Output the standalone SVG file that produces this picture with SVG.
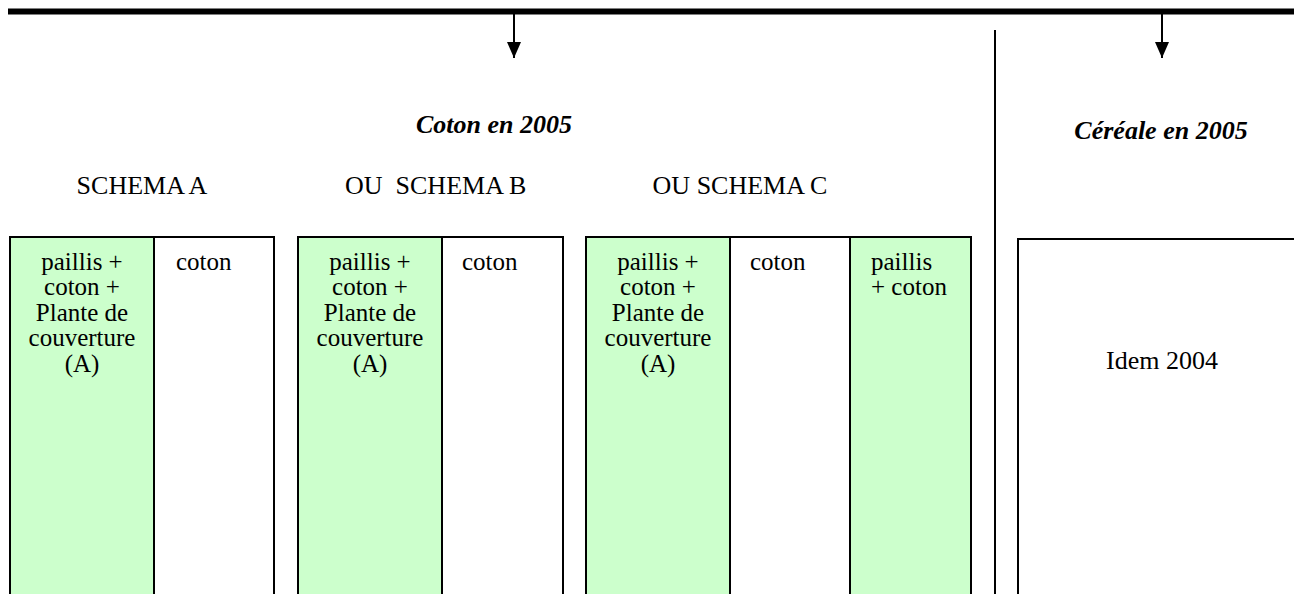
<svg xmlns="http://www.w3.org/2000/svg" width="1294" height="594" viewBox="0 0 1294 594">
<style>
  text { font-family: "Liberation Serif", "Times New Roman", serif; fill: #000; }
  .t { font-size: 26px; }
  .b { font-size: 25px; }
  .h { font-size: 26px; font-weight: bold; font-style: italic; }
  .g { fill: #ccffcc; stroke: #000; stroke-width: 2; }
  .w { fill: #fff; stroke: #000; stroke-width: 2; }
  .c { text-anchor: middle; }
</style>
<defs>
  <marker id="ah" markerWidth="16" markerHeight="14" refX="16" refY="7" orient="auto" markerUnits="userSpaceOnUse" viewBox="0 0 16 14">
    <path d="M0,0 L16,7 L0,14 Z" fill="#000"/>
  </marker>
</defs>
<g id="connectors">
  <line x1="8" y1="11.5" x2="1294" y2="11.5" stroke="#000" stroke-width="6"/>
  <line x1="514" y1="14" x2="514" y2="58" stroke="#000" stroke-width="2" marker-end="url(#ah)"/>
  <line x1="1162" y1="14" x2="1162" y2="58" stroke="#000" stroke-width="2" marker-end="url(#ah)"/>
  <line x1="995" y1="30" x2="995" y2="594" stroke="#000" stroke-width="2"/>
</g>
<g id="titles">
  <text class="h c" x="494" y="133">Coton en 2005</text>
  <text class="h c" x="1161" y="139">Céréale en 2005</text>
  <text class="t c" x="142" y="194">SCHEMA A</text>
  <text class="t" x="345" y="194" xml:space="preserve">OU  SCHEMA B</text>
  <text class="t c" x="740" y="194">OU SCHEMA C</text>
</g>
<g id="schemaA">
  <rect class="g" x="10" y="237" width="144" height="360"/>
  <rect class="w" x="154" y="237" width="120" height="360"/>
  <text class="b c"><tspan x="82" y="269.5">paillis +</tspan><tspan x="82" y="295">coton +</tspan><tspan x="82" y="320.5">Plante de</tspan><tspan x="82" y="346">couverture</tspan><tspan x="82" y="371.5">(A)</tspan></text>
  <text class="b" x="176" y="269.5">coton</text>
</g>
<g id="schemaB">
  <rect class="g" x="298" y="237" width="144" height="360"/>
  <rect class="w" x="442" y="237" width="121" height="360"/>
  <text class="b c"><tspan x="370" y="269.5">paillis +</tspan><tspan x="370" y="295">coton +</tspan><tspan x="370" y="320.5">Plante de</tspan><tspan x="370" y="346">couverture</tspan><tspan x="370" y="371.5">(A)</tspan></text>
  <text class="b" x="462" y="269.5">coton</text>
</g>
<g id="schemaC">
  <rect class="g" x="586" y="237" width="144" height="360"/>
  <rect class="w" x="730" y="237" width="120" height="360"/>
  <rect class="g" x="850" y="237" width="121" height="360"/>
  <text class="b c"><tspan x="658" y="269.5">paillis +</tspan><tspan x="658" y="295">coton +</tspan><tspan x="658" y="320.5">Plante de</tspan><tspan x="658" y="346">couverture</tspan><tspan x="658" y="371.5">(A)</tspan></text>
  <text class="b" x="750" y="269.5">coton</text>
  <text class="b"><tspan x="871" y="269.5">paillis</tspan><tspan x="871" y="295">+ coton</tspan></text>
</g>
<g id="cereale">
  <rect class="w" x="1018" y="239" width="290" height="360"/>
  <text class="t c" x="1162" y="369">Idem 2004</text>
</g>
</svg>
